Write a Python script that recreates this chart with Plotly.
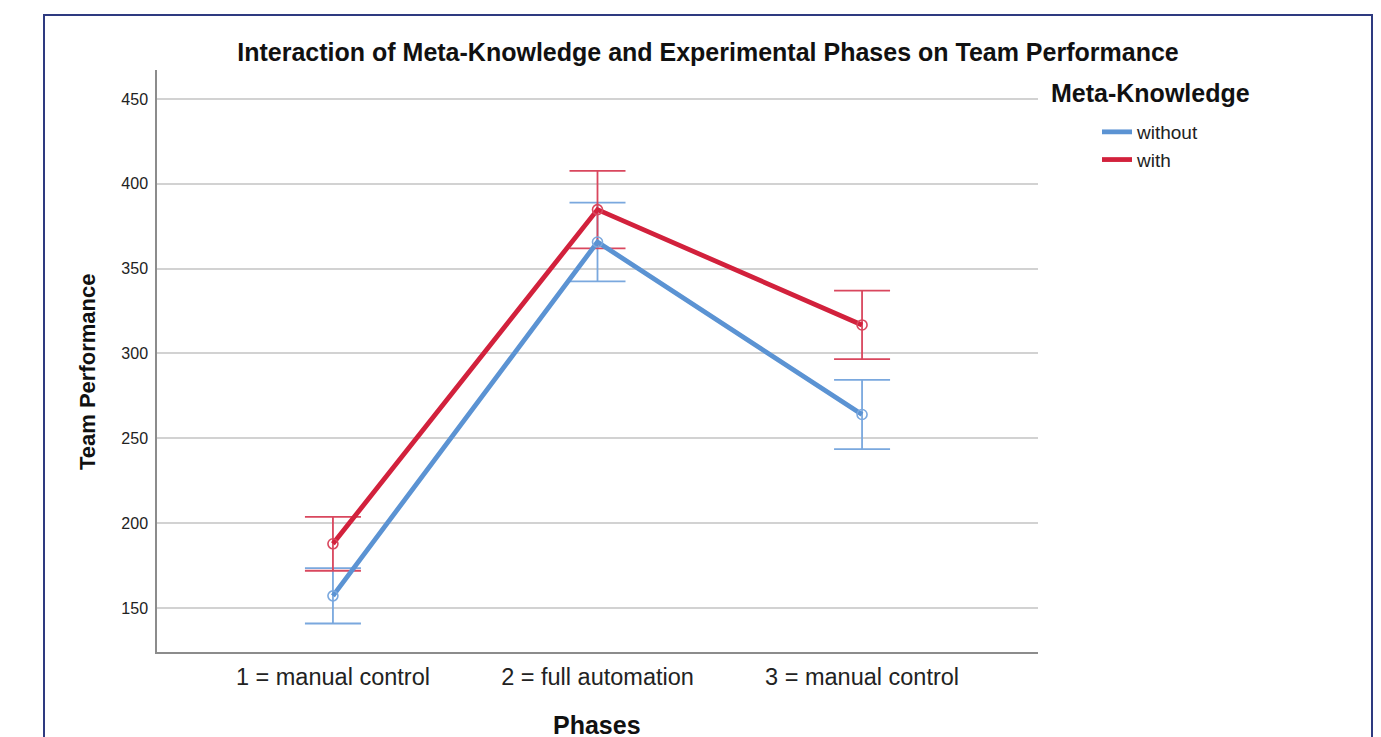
import plotly.graph_objects as go

phases = ["1 = manual control", "2 = full automation", "3 = manual control"]
series_names = ["without", "with"]
without_mean = [157.1, 365.7, 264.0]
without_err = [16.3, 23.2, 20.4]
with_mean = [187.8, 384.8, 316.8]
with_err = [15.9, 22.8, 20.2]
y_ticks = [150, 200, 250, 300, 350, 400, 450]

colors = {"without": "#5B93D3", "with": "#D2213C"}
err_colors = {"without": "#7AA8DE", "with": "#D9475E"}

FONT = "Liberation Sans, Arial, sans-serif"
W, H = 1381, 737
OFF = 8  # page body margin
L, R, T, B = 157, 1038, 70, 652  # plot area in page pixels

fig = go.Figure()
data = {"without": (without_mean, without_err), "with": (with_mean, with_err)}

for name in series_names:
    m, e = data[name]
    fig.add_trace(go.Scatter(
        x=phases, y=m, mode="markers", showlegend=False, hoverinfo="skip",
        marker=dict(size=1, color="rgba(0,0,0,0)"),
        error_y=dict(type="data", array=e, visible=True, color=err_colors[name],
                     thickness=1.8, width=28),
    ))
for name in series_names:
    m, e = data[name]
    fig.add_trace(go.Scatter(
        x=phases, y=m, mode="lines", name=name,
        line=dict(color=colors[name], width=4.8),
    ))
for name in series_names:
    m, e = data[name]
    fig.add_trace(go.Scatter(
        x=phases, y=m, mode="markers", showlegend=False,
        marker=dict(symbol="circle-open", size=10, color=err_colors[name],
                    line=dict(width=1.6, color=err_colors[name])),
    ))

pw = R - L
ph = B - T
def px_x(p):
    return (p - L) / pw
def px_y(p):
    return (B - p) / ph

fig.update_layout(
    width=W, height=H,
    margin=dict(l=L - OFF, r=W - R + OFF, t=T - OFF, b=H - B + OFF),
    paper_bgcolor="white", plot_bgcolor="white",
    font=dict(family=FONT, color="#222222"),
    title=dict(text="<b>Interaction of Meta-Knowledge and Experimental Phases on Team Performance</b>",
               x=px_x(708), xref="paper", xanchor="center",
               y=1 - (52 - OFF) / H, yref="container", yanchor="middle",
               font=dict(size=25, color="#111111", family=FONT)),
    xaxis=dict(type="category", categoryorder="array", categoryarray=phases,
               range=[-0.665, 2.665], showgrid=False, showline=True,
               linecolor="#8C8C8C", linewidth=1.5, ticks="", ticklabelstandoff=3,
               tickfont=dict(size=23.5, color="#222222", family=FONT),
               zeroline=False, fixedrange=True),
    yaxis=dict(range=[124.0, 467.1], tickvals=y_ticks, showgrid=True,
               gridcolor="#D2D2D2", gridwidth=1.5, showline=True,
               linecolor="#8C8C8C", linewidth=1.5, ticks="", ticklabelstandoff=4,
               tickfont=dict(size=16, color="#222222", family=FONT),
               zeroline=False, fixedrange=True),
    legend=dict(x=px_x(1097), y=px_y(113), xanchor="left", yanchor="top",
                bgcolor="rgba(0,0,0,0)", font=dict(size=19, color="#222222", family=FONT),
                tracegroupgap=0, itemwidth=30),
    showlegend=True,
)

fig.add_annotation(text="<b>Meta-Knowledge</b>", xref="paper", yref="paper",
                   x=px_x(1049), y=px_y(93), xanchor="left", yanchor="middle",
                   showarrow=False, font=dict(size=25, color="#111111", family=FONT))
fig.add_annotation(text="<b>Phases</b>", xref="paper", yref="paper",
                   x=px_x(597), y=px_y(725), xanchor="center", yanchor="middle",
                   showarrow=False, font=dict(size=25, color="#111111", family=FONT))
fig.add_annotation(text="<b>Team Performance</b>", xref="paper", yref="paper",
                   x=px_x(88), y=px_y(372), xanchor="center", yanchor="middle",
                   textangle=-90, showarrow=False,
                   font=dict(size=22, color="#111111", family=FONT))

fig.add_shape(type="rect", xref="paper", yref="paper",
              x0=px_x(44), x1=px_x(1372), y0=px_y(800), y1=px_y(15),
              line=dict(color="#2E3A80", width=2), fillcolor="rgba(0,0,0,0)", layer="below")

fig.write_html("out.html")
